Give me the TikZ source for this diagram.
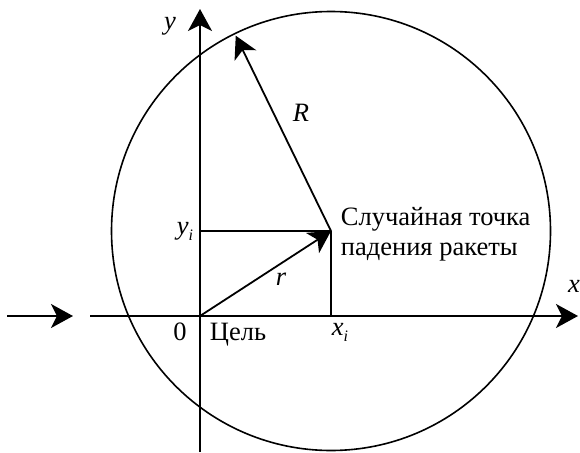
\documentclass[tikz,border=0pt]{standalone}
\usepackage{fontspec}
\setmainfont{Liberation Serif}
\usetikzlibrary{arrows.meta,calc}
\newcommand{\subi}{\raisebox{-6pt}{\fontsize{16}{16}\selectfont\textit{i}}}
\begin{document}
\begin{tikzpicture}[x=1pt,y=-1pt,line width=1.8pt,
  arr/.style={-{Stealth[length=22pt,width=24pt,inset=6pt]}},
  txt/.style={font=\fontsize{26.5}{30}\selectfont,inner sep=0pt},
  itxt/.style={font=\fontsize{26.5}{30}\selectfont\itshape,inner sep=0pt}]
\useasboundingbox (0,0) rectangle (580,452);
% key points
\coordinate (O) at (200,316);
\coordinate (P) at (331,231);
\coordinate (Ytop) at (200,9);
\coordinate (Ybot) at (200,452);
\coordinate (Xl) at (90,316);
\coordinate (Xr) at (578,316);
\coordinate (Al) at (7,316);
\coordinate (Ar) at (73,316);
% circle
\node[draw,circle,minimum size=439pt,inner sep=0pt,line width=1.6pt] (C) at (P) {};
% axes
\draw[arr] (Ybot) -- (Ytop);
\draw[arr] (Xl) -- (Xr);
\draw[arr] (Al) -- (Ar);
% projections
\draw (O |- P) -- (P);
\draw (P) -- (P |- O);
% vectors
\draw[arr] (O) -- (P);
\draw[arr,shorten >=3pt] (P) -- (C.116);
% labels
\node[itxt] (ly) at (170,26) {y};
\node[itxt] (lx) at (574,286) {x};
\node[itxt] (lR) at (301,113) {R};
\node[itxt] (lr) at (281,279) {r};
\node[itxt] (lyi) at (185,231) {y\subi};
\node[itxt] (lxi) at (340,332) {x\subi};
\node[txt] (l0) at (180,332) {0};
\node[txt,anchor=base west] (lt) at (209,340) {Цель};
\node[txt,anchor=base west] (l1) at (340,225) {Случайная точка};
\node[txt,anchor=base west] (l2) at (340,255) {падения ракеты};
\end{tikzpicture}
\end{document}
